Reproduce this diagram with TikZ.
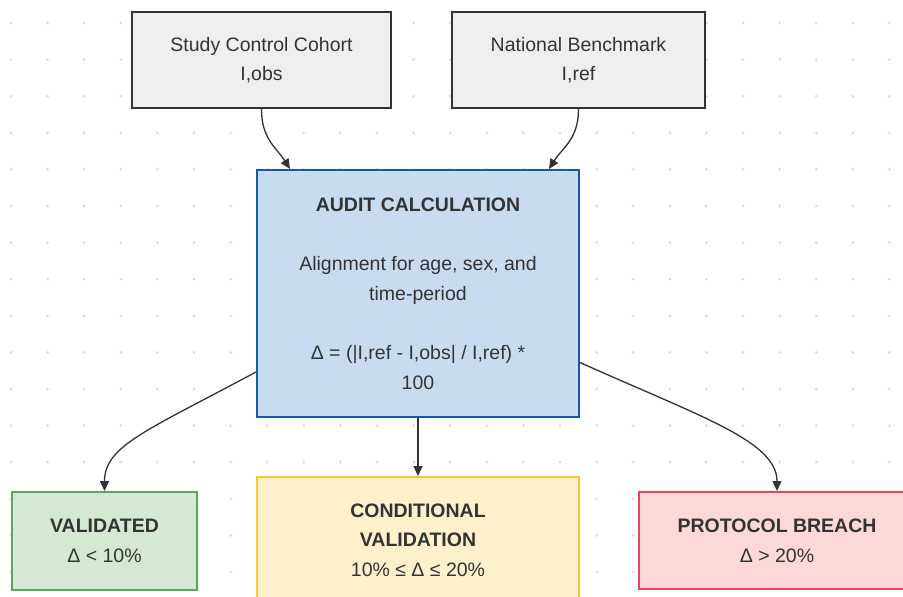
\documentclass[tikz,border=0pt]{standalone}
\usepackage{fontspec}
\setmainfont{Liberation Sans}
\usetikzlibrary{arrows.meta}
\definecolor{dotc}{HTML}{DCDCDC}
\definecolor{txt}{HTML}{333333}
\definecolor{edgec}{HTML}{333333}
\definecolor{grayfill}{HTML}{EFEFEF}
\definecolor{grayline}{HTML}{333333}
\definecolor{bluefill}{HTML}{C9DCEF}
\definecolor{blueline}{HTML}{1E55A8}
\definecolor{greenfill}{HTML}{D4E8D4}
\definecolor{greenline}{HTML}{56A957}
\definecolor{yellowfill}{HTML}{FFF0CC}
\definecolor{yellowline}{HTML}{F8C537}
\definecolor{redfill}{HTML}{FDD8D9}
\definecolor{redline}{HTML}{E5475A}
\tikzset{
  box/.style={rectangle, line width=2pt, inner sep=0pt, align=center,
    text=txt, font=\fontsize{19.5}{29.6}\selectfont},
  srcbox/.style={box, fill=grayfill, draw=grayline},
  calcbox/.style={box, fill=bluefill, draw=blueline},
  okbox/.style={box, fill=greenfill, draw=greenline},
  condbox/.style={box, fill=yellowfill, draw=yellowline},
  failbox/.style={box, fill=redfill, draw=redline},
  link/.style={draw=edgec, line width=1.3pt, -{Triangle[length=10pt,width=9pt]}},
}
\begin{document}
\begin{tikzpicture}[x=1pt,y=-1pt]
\useasboundingbox (0,0) rectangle (903,597);
\clip (0,0) rectangle (903,597);
\fill[white] (0,0) rectangle (903,597);
% dotted grid
\foreach \i in {0,...,24} {
  \foreach \j in {0,...,16} {
    \fill[dotc] (11+36.6*\i, 23+36.6*\j) circle[radius=1.5pt];
  }
}
% nodes
\node[srcbox, minimum width=259pt, minimum height=96pt] (study) at (261.5,60)
  {Study Control Cohort\\I,obs};
\node[srcbox, minimum width=253pt, minimum height=96pt] (national) at (578.5,60)
  {National Benchmark\\I,ref};
\node[calcbox, minimum width=322pt, minimum height=247pt] (audit) at (418,293.5)
  {{\bfseries AUDIT CALCULATION}\\[29.6pt]Alignment for age, sex, and\\time-period\\[29.6pt]Δ = (|I,ref - I,obs| / I,ref) *\\100};
\node[okbox, minimum width=185pt, minimum height=98pt] (valid) at (104.5,541)
  {{\bfseries VALIDATED}\\Δ < 10\%};
\node[condbox, minimum width=322pt, minimum height=126pt] (cond) at (418,540)
  {{\bfseries CONDITIONAL}\\{\bfseries VALIDATION}\\10\% ≤ Δ ≤ 20\%};
\node[failbox, minimum width=276pt, minimum height=97pt] (breach) at (777,540.5)
  {{\bfseries PROTOCOL BREACH}\\Δ > 20\%};
% connectors
\draw[link] (study.south) .. controls +(0,30) and +(-14,-22) .. ([xshift=34pt]audit.north west);
\draw[link] (national.south) .. controls +(0,30) and +(14,-22) .. ([xshift=-31pt]audit.north east);
\draw[link] ([yshift=-78.5pt]audit.west) .. controls +(-110,59) and +(0,-45) .. (valid.north);
\draw[link] (audit.south) -- (cond.north);
\draw[link] ([yshift=-69pt]audit.east) .. controls +(120,54) and +(0,-50) .. (breach.north);
\end{tikzpicture}
\end{document}
